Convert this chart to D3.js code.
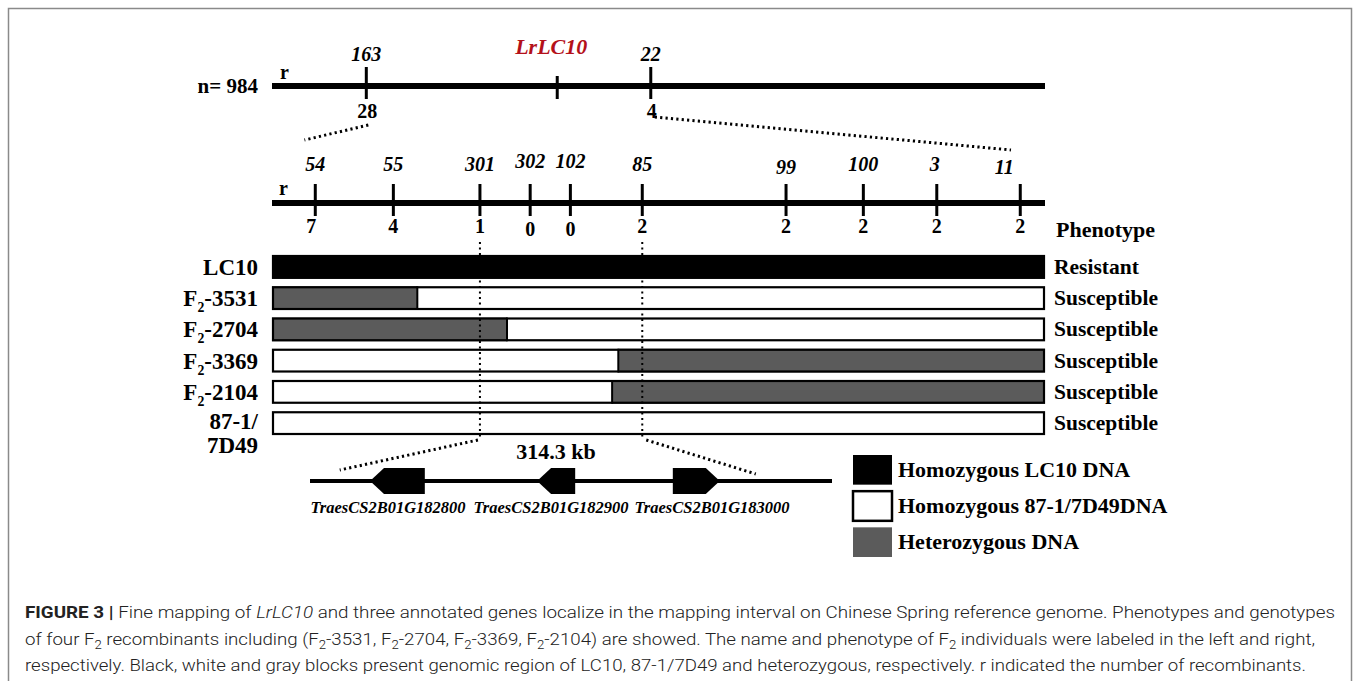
<!DOCTYPE html>
<html><head><meta charset="utf-8">
<script src="https://cdn.jsdelivr.net/npm/d3@7"></script>
<style>
html,body{margin:0;padding:0;background:#fff;}
svg{display:block;}
.serif{font-family:"Liberation Serif","Times New Roman",serif;font-weight:bold;}
</style></head>
<body>
<svg id="c" width="1360" height="681"></svg>
<script>
// ---------- DATA ----------
const topMarkers = ["163", "LrLC10", "22"];
const topPos = [12.2, 36.9, 49.0];
const topRecomb = ["28", "", "4"];

const fineMarkers = ["54", "55", "301", "302", "102", "85", "99", "100", "3", "11"];
const finePos = [5.6, 15.7, 26.9, 33.4, 38.6, 47.9, 66.5, 76.5, 86.0, 96.8];
const fineRecomb = ["7", "4", "1", "0", "0", "2", "2", "2", "2", "2"];

const lines = ["LC10", "F2-3531", "F2-2704", "F2-3369", "F2-2104", "87-1/7D49"];
const phenotypes = ["Resistant", "Susceptible", "Susceptible", "Susceptible", "Susceptible", "Susceptible"];
// genotype segments per line: [start, end, type]  (L = LC10, W = 87-1/7D49, H = heterozygous)
const segStart = [[0], [0, 18.8], [0, 30.4], [0, 44.8], [0, 44.0], [0]];
const segEnd   = [[100], [18.8, 100], [30.4, 100], [44.8, 100], [44.0, 100], [100]];
const segType  = [["L"], ["H", "W"], ["H", "W"], ["W", "H"], ["W", "H"], ["W"]];

const genes = ["TraesCS2B01G182800", "TraesCS2B01G182900", "TraesCS2B01G183000"];
const geneStart = [11.5, 43.5, 69.5];
const geneEnd = [22.0, 50.8, 78.5];
const geneStrand = [-1, -1, 1];
const intervalLabel = "314.3 kb";

const legendLabels = ["Homozygous LC10 DNA", "Homozygous 87-1/7D49DNA", "Heterozygous DNA"];
const legendTypes = ["L", "W", "H"];

const captionLines = [
  [["b","FIGURE 3 | "],["n","Fine mapping of "],["i","LrLC10"],["n"," and three annotated genes localize in the mapping interval on Chinese Spring reference genome. Phenotypes and genotypes"]],
  [["n","of four F"],["s","2"],["n"," recombinants including (F"],["s","2"],["n","-3531, F"],["s","2"],["n","-2704, F"],["s","2"],["n","-3369, F"],["s","2"],["n","-2104) are showed. The name and phenotype of F"],["s","2"],["n"," individuals were labeled in the left and right,"]],
  [["n","respectively. Black, white and gray blocks present genomic region of LC10, 87-1/7D49 and heterozygous, respectively. r indicated the number of recombinants."]]
];

// ---------- DRAW ----------
const svg = d3.select("#c");
const fill = {L: "#000", W: "#fff", H: "#5b5b5b"};

svg.append("rect").attr("x", 8.5).attr("y", 8.5).attr("width", 1343).attr("height", 700)
  .attr("fill", "none").attr("stroke", "#8a8a8a").attr("stroke-width", 1.5);

const x = d3.scaleLinear().domain([0, 100]).range([272, 1045]);

function subLabel(g, txt, size) {
  const m = txt.match(/^F2(-.*)$/);
  if (m) {
    g.append("tspan").text("F");
    g.append("tspan").text("2").attr("font-size", size * 0.6).attr("dy", 6);
    g.append("tspan").text(m[1]).attr("dy", -6);
  } else g.text(txt);
}

// top map
const yTop = 86;
svg.append("line").attr("x1", x(0)).attr("x2", x(100)).attr("y1", yTop).attr("y2", yTop)
  .attr("stroke", "#000").attr("stroke-width", 6);
svg.append("text").attr("class", "serif").attr("x", 258).attr("y", yTop + 7).attr("text-anchor", "end")
  .attr("font-size", 21).text("n= 984");
svg.append("text").attr("class", "serif").attr("x", 280).attr("y", yTop - 7).attr("font-size", 20).text("r");
topMarkers.forEach((m, i) => {
  const isGene = m === "LrLC10";
  svg.append("line").attr("x1", x(topPos[i])).attr("x2", x(topPos[i]))
    .attr("y1", isGene ? 76 : 67).attr("y2", 99).attr("stroke", "#000").attr("stroke-width", 3);
  svg.append("text").attr("class", "serif").attr("x", x(topPos[i]) + (isGene ? -6 : 0)).attr("y", isGene ? 54 : 61)
    .attr("text-anchor", "middle").attr("font-style", "italic").attr("font-size", isGene ? 22 : 20)
    .attr("fill", isGene ? "#b4111a" : "#000").text(m);
  if (topRecomb[i]) svg.append("text").attr("class", "serif").attr("x", x(topPos[i]) + 1).attr("y", 118)
    .attr("text-anchor", "middle").attr("font-size", 20).text(topRecomb[i]);
});
const dot = {stroke: "#000", "stroke-width": 3, "stroke-dasharray": "2.2 3.2", "stroke-linecap": "butt"};
function dotted(x1, y1, x2, y2) {
  const l = svg.append("line").attr("x1", x1).attr("y1", y1).attr("x2", x2).attr("y2", y2);
  Object.entries(dot).forEach(([k, v]) => l.attr(k, v));
}
dotted(x(topPos[0]) + 2, 125, x(4.2), 140);
dotted(x(topPos[2]) + 4, 117, x(95.6), 150);

// fine map
const yFine = 203;
svg.append("line").attr("x1", x(0)).attr("x2", x(100)).attr("y1", yFine).attr("y2", yFine)
  .attr("stroke", "#000").attr("stroke-width", 6);
svg.append("text").attr("class", "serif").attr("x", 279).attr("y", yFine - 8).attr("font-size", 20).text("r");
fineMarkers.forEach((m, i) => {
  svg.append("line").attr("x1", x(finePos[i])).attr("x2", x(finePos[i])).attr("y1", 184).attr("y2", 216)
    .attr("stroke", "#000").attr("stroke-width", 3);
  const up = (m === "302" || m === "102") ? -3 : 0;
  svg.append("text").attr("class", "serif").attr("x", x(finePos[i]) + (m === "11" ? -16 : m === "3" ? -2 : 0))
    .attr("y", 171 + up + (["99","11"].includes(m) ? 3 : 0))
    .attr("text-anchor", "middle").attr("font-style", "italic").attr("font-size", 20).text(m);
  const lowZero = fineRecomb[i] === "0" ? 3 : 0;
  svg.append("text").attr("class", "serif").attr("x", x(finePos[i]) + (i === 0 ? -4 : 0)).attr("y", 233 + lowZero)
    .attr("text-anchor", "middle").attr("font-size", 20).text(fineRecomb[i]);
});
svg.append("text").attr("class", "serif").attr("x", 1056).attr("y", 237).attr("font-size", 22).text("Phenotype");

// genotype bars
const yBand = d3.scaleBand().domain(lines).range([255, 435]).paddingInner(0.24);
lines.forEach((ln, i) => {
  const y0 = yBand(ln), h = yBand.bandwidth();
  segStart[i].forEach((s, j) => {
    svg.append("rect").attr("x", x(s)).attr("y", y0).attr("width", x(segEnd[i][j]) - x(s)).attr("height", h)
      .attr("fill", fill[segType[i][j]]);
  });
  segStart[i].slice(1).forEach(s => {
    svg.append("line").attr("x1", x(s)).attr("x2", x(s)).attr("y1", y0).attr("y2", y0 + h)
      .attr("stroke", "#000").attr("stroke-width", 2);
  });
  svg.append("rect").attr("x", x(0) + 1).attr("y", y0 + 1).attr("width", x(100) - x(0) - 2).attr("height", h - 2)
    .attr("fill", "none").attr("stroke", "#000").attr("stroke-width", 2.2);
  const cy = y0 + h / 2 + 8;
  if (ln === "87-1/7D49") {
    svg.append("text").attr("class", "serif").attr("x", 258).attr("y", cy - 2).attr("text-anchor", "end")
      .attr("font-size", 23).text("87-1/");
    svg.append("text").attr("class", "serif").attr("x", 258).attr("y", cy + 22).attr("text-anchor", "end")
      .attr("font-size", 23).text("7D49");
  } else {
    const t = svg.append("text").attr("class", "serif").attr("x", 258).attr("y", cy).attr("text-anchor", "end")
      .attr("font-size", 23);
    subLabel(t, ln, 23);
  }
  svg.append("text").attr("class", "serif").attr("x", 1054).attr("y", cy - 1).attr("font-size", 21.5).text(phenotypes[i]);
});

// vertical dotted lines through the interval (markers 301 and 85)
[finePos[2], finePos[5]].forEach(p => {
  svg.append("line").attr("x1", x(p)).attr("x2", x(p)).attr("y1", 242).attr("y2", 438)
    .attr("stroke", "#000").attr("stroke-width", 2).attr("stroke-dasharray", "2 3.5");
});

// gene interval
const xg = d3.scaleLinear().domain([0, 100]).range([310, 832]);
const yGene = 481;
dotted(x(finePos[2]) - 2, 440, xg(5.7), 470);
dotted(x(finePos[5]) + 4, 440, xg(85.4), 474);
svg.append("text").attr("class", "serif").attr("x", 556).attr("y", 459).attr("text-anchor", "middle")
  .attr("font-size", 22).text(intervalLabel);
svg.append("line").attr("x1", xg(0)).attr("x2", xg(100)).attr("y1", yGene).attr("y2", yGene)
  .attr("stroke", "#000").attr("stroke-width", 4);
genes.forEach((g, i) => {
  const a = xg(geneStart[i]), b = xg(geneEnd[i]), hh = 13, tip = 14;
  let pts;
  if (geneStrand[i] < 0) pts = [[a, yGene], [a + tip, yGene - hh], [b, yGene - hh], [b, yGene + hh], [a + tip, yGene + hh]];
  else pts = [[a, yGene - hh], [b - tip, yGene - hh], [b, yGene], [b - tip, yGene + hh], [a, yGene + hh]];
  svg.append("path").attr("d", d3.line()(pts) + "Z").attr("fill", "#000");
});
const geneLabelX = [388, 551, 712];
genes.forEach((g, i) => {
  svg.append("text").attr("class", "serif").attr("x", geneLabelX[i]).attr("y", 513).attr("text-anchor", "middle")
    .attr("font-style", "italic").attr("font-size", 16.5).text(g);
});

// legend
const yLeg = d3.scaleBand().domain(legendTypes).range([455, 557]).paddingInner(0.18);
legendTypes.forEach((t, i) => {
  svg.append("rect").attr("x", 853).attr("y", yLeg(t)).attr("width", 39).attr("height", yLeg.bandwidth())
    .attr("fill", fill[t]).attr("stroke", t === "W" ? "#000" : "none").attr("stroke-width", 2.5);
  svg.append("text").attr("class", "serif").attr("x", 898).attr("y", yLeg(t) + yLeg.bandwidth() / 2 + 7)
    .attr("font-size", 22).text(legendLabels[i]);
});

// caption
const capW = [1310, 1290, 1281];
captionLines.forEach((ln, i) => {
  const t = svg.append("text").attr("x", 25).attr("y", 618 + i * 26.5)
    .attr("font-family", "Roboto, 'Liberation Sans', sans-serif").attr("font-weight", 300)
    .attr("font-size", 17).attr("fill", "#222")
    .attr("textLength", capW[i]).attr("lengthAdjust", "spacingAndGlyphs");
  ln.forEach(([k, s], j) => {
    const sp = t.append("tspan").text(s);
    if (k === "b") sp.attr("font-weight", 700);
    if (k === "i") sp.attr("font-style", "italic");
    if (k === "s") sp.attr("font-size", 12).attr("dy", 4);
    if (j > 0 && ln[j - 1][0] === "s" && k !== "s") sp.attr("dy", -4);
  });
});
</script>
</body></html>
